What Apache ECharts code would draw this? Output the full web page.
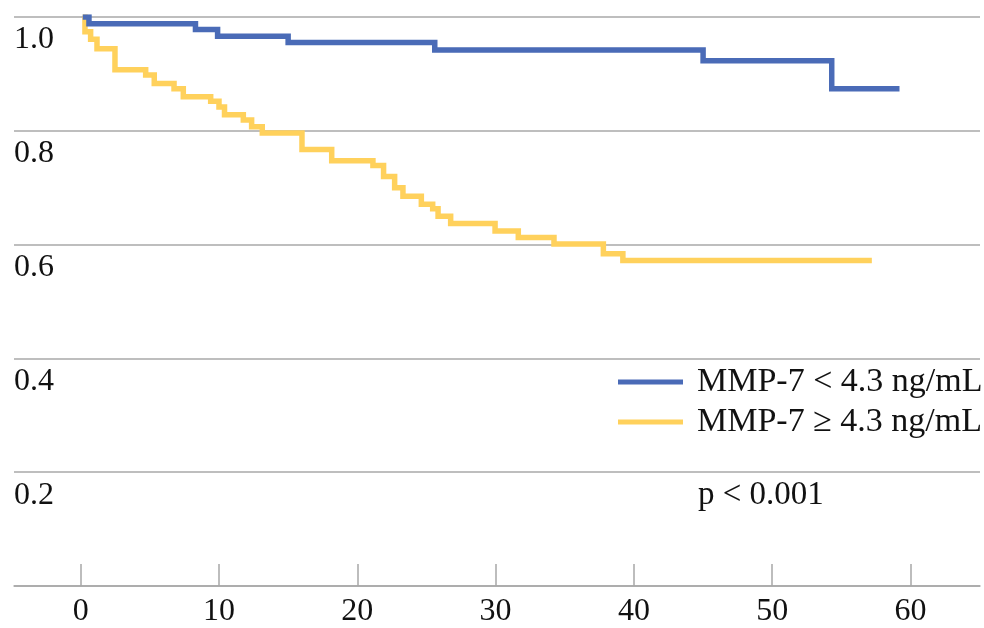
<!DOCTYPE html>
<html>
<head>
<meta charset="utf-8">
<script src="https://cdn.jsdelivr.net/npm/echarts@6/dist/echarts.min.js"></script>
<style>
html,body{margin:0;padding:0;background:#fff;}
#chart{width:984px;height:628px;}
</style>
</head>
<body>
<div id="chart"></div>
<script>
// ---- data ----
const seriesNames = ['MMP-7 < 4.3 ng/mL', 'MMP-7 \u2265 4.3 ng/mL'];
const xTicks = [0, 10, 20, 30, 40, 50, 60];
const yTicks = [0.2, 0.4, 0.6, 0.8, 1.0];
const yTickLabels = ['0.2', '0.4', '0.6', '0.8', '1.0'];
const pValueText = 'p < 0.001';

const lowTime = [0.15, 0.6, 8.3, 9.9, 15.0, 25.6, 45.0, 54.3, 59.2];
const lowSurv = [1.0, 0.988, 0.978, 0.966, 0.955, 0.942, 0.923, 0.874, 0.874];

const highTime = [0.15, 0.31, 0.72, 1.18, 2.48, 4.7, 5.32, 6.75, 7.42, 9.4, 10.0, 10.4, 11.76, 12.36, 13.13,
  16.0, 18.15, 21.13, 21.9, 22.7, 23.3, 24.63, 25.45, 25.84, 26.75, 29.96, 31.64, 34.22, 37.79, 39.2, 57.2];
const highSurv = [1.0, 0.974, 0.961, 0.944, 0.9075, 0.898, 0.883, 0.874, 0.860, 0.852, 0.842, 0.828, 0.819, 0.807, 0.796,
  0.767, 0.7475, 0.739, 0.7196, 0.700, 0.685, 0.671, 0.663, 0.650, 0.637, 0.624, 0.6126, 0.601, 0.584, 0.572, 0.572];

const zip = (a, b) => a.map((v, i) => [v, b[i]]);

const FONT = 'Liberation Serif, Times New Roman, serif';
const GRID_COLOR = '#a8a8a8';
const BLUE = '#4a6bb7';
const YELLOW = '#ffd15c';

const chart = echarts.init(document.getElementById('chart'), null, {renderer: 'canvas'});
chart.setOption({
  animation: false,
  backgroundColor: '#ffffff',
  grid: {left: 14, right: 4, top: 17, bottom: 38, containLabel: false},
  xAxis: {
    type: 'value', min: -4.82, max: 65.02,
    axisLine: {show: true, lineStyle: {color: GRID_COLOR, width: 1.5}},
    axisTick: {show: true, inside: true, length: 22, customValues: xTicks, lineStyle: {color: GRID_COLOR, width: 1.5}},
    axisLabel: {customValues: xTicks, margin: 10, fontFamily: FONT, fontSize: 32, color: '#111'},
    splitLine: {show: false}
  },
  yAxis: {
    type: 'value', min: 0, max: 1, interval: 0.2,
    axisLine: {show: false},
    axisTick: {show: false},
    splitLine: {show: true, lineStyle: {color: GRID_COLOR, width: 1.5}},
    axisLabel: {
      customValues: yTicks, inside: true, margin: 0,
      formatter: (v) => yTickLabels[yTicks.findIndex(t => Math.abs(t - v) < 1e-9)] || v.toFixed(1),
      align: 'left', verticalAlign: 'top', lineHeight: 46,
      fontFamily: FONT, fontSize: 32, color: '#111'
    }
  },
  legend: {
    data: [seriesNames[0], seriesNames[1]],
    orient: 'vertical', left: 618, top: 365, padding: 0,
    icon: 'rect', itemWidth: 65, itemHeight: 5, itemGap: 6,
    textStyle: {fontFamily: FONT, fontSize: 34, lineHeight: 32, color: '#111', padding: [0, 0, 0, 9]}
  },
  graphic: [{
    type: 'text',
    style: {x: 698, y: 495, text: pValueText, font: '33px ' + FONT, fill: '#111', align: 'left', verticalAlign: 'middle'}
  }],
  series: [
    {
      name: seriesNames[1], type: 'line', step: 'end', symbol: 'none',
      data: zip(highTime, highSurv),
      lineStyle: {color: YELLOW, width: 5.5, cap: 'butt', join: 'miter'},
      itemStyle: {color: YELLOW}, z: 2
    },
    {
      name: seriesNames[0], type: 'line', step: 'end', symbol: 'none',
      data: zip(lowTime, lowSurv),
      lineStyle: {color: BLUE, width: 5.5, cap: 'butt', join: 'miter'},
      itemStyle: {color: BLUE}, z: 3
    }
  ]
});
</script>
</body>
</html>
